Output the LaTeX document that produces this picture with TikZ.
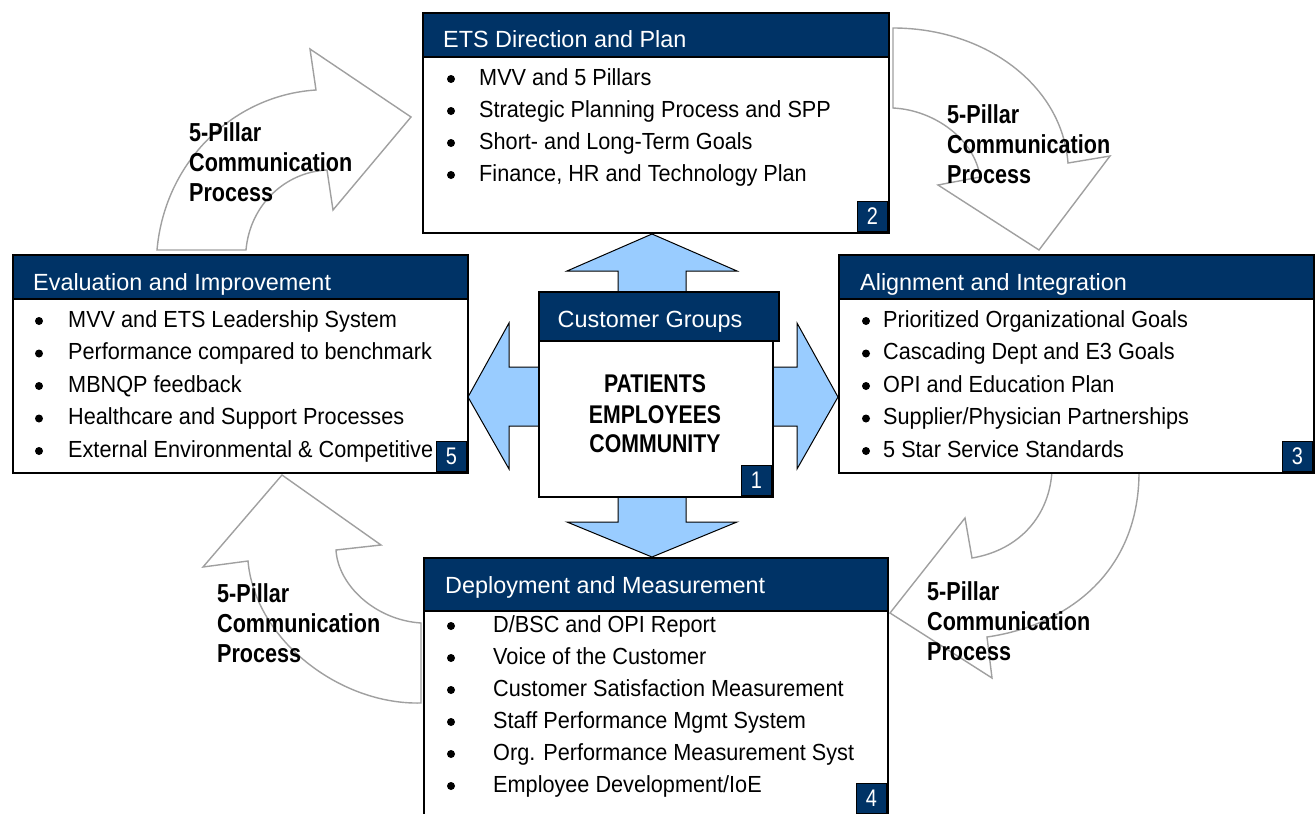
\documentclass[tikz,border=0pt]{standalone}
\usepackage{fontspec}
\setmainfont{Liberation Sans}
\newfontfamily\hdfont{Liberation Sans}
\newfontfamily\bodyfont{Liberation Sans}[FakeStretch=0.93]
\newfontfamily\narrowfont{Liberation Sans}[FakeStretch=0.83]
\definecolor{navy}{HTML}{003366}
\definecolor{lblue}{HTML}{99CCFF}
\definecolor{agray}{HTML}{A0A0A0}
\begin{document}
\begin{tikzpicture}[x=1pt,y=-1pt,
  bodybox/.style={draw=black, line width=1.6pt, fill=white, anchor=north west, inner sep=0pt},
  headbox/.style={fill=navy, draw=black, line width=1.6pt, anchor=north west, inner sep=0pt},
  htext/.style={anchor=base west, text=white, font=\hdfont\fontsize{23.4}{28}\selectfont, inner sep=0pt},
  item/.style={anchor=base west, font=\bodyfont\fontsize{23.3}{28}\selectfont, inner sep=0pt},
  bul/.style={circle, fill=black, inner sep=0pt, minimum size=8pt},
  badge/.style={fill=navy, draw=black, line width=1.2pt, minimum width=30pt, minimum height=30pt, anchor=south east, text=white, font=\narrowfont\fontsize{24}{28}\selectfont, inner sep=0pt},
  curv/.style={draw=agray, line width=1.4pt, fill=white, line join=miter},
  barrow/.style={draw=black, line width=1pt, fill=lblue, line join=miter},
  lbl/.style={anchor=base west, font=\narrowfont\bfseries\fontsize{26}{30}\selectfont, inner sep=0pt, align=left},
  ctext/.style={anchor=base, font=\narrowfont\bfseries\fontsize{25.6}{30}\selectfont, inner sep=0pt},
]
\useasboundingbox (0,0) rectangle (1315,814);

% curved communication arrows
\draw[curv] (157,250) .. controls (165,160) and (235,95) .. (316,90) -- (310,49) -- (411,117) -- (333,210) -- (327,170) .. controls (285,172) and (250,205) .. (246,250) -- cycle;
\draw[curv] (893,28) .. controls (985,28) and (1062,85) .. (1068,163) -- (1110,156) -- (1039,250) -- (938,185) -- (980,177) .. controls (975,140) and (935,110) .. (893,108) -- cycle;
\draw[curv] (421,703) .. controls (340,705) and (255,640) .. (248,561) -- (203,567) -- (282,475) -- (381,545) -- (336,550) .. controls (338,585) and (375,620) .. (421,623) -- cycle;
\draw[curv] (1052,470) .. controls (1050,515) and (1020,550) .. (972,558) -- (965,518) -- (890,613) -- (992,678) -- (987,637) .. controls (1070,625) and (1140,570) .. (1139,470) -- cycle;

% labels (anchor = baseline of the last line)
\node[lbl] (l1) at (189,201) {5-Pillar\\Communication\\Process};
\node[lbl] (l2) at (947,183) {5-Pillar\\Communication\\Process};
\node[lbl] (l3) at (927,660) {5-Pillar\\Communication\\Process};
\node[lbl] (l4) at (217,662) {5-Pillar\\Communication\\Process};

% light blue arrows
\draw[barrow] (618,292) -- (618,271) -- (567,271) -- (652,234) -- (737,271) -- (686,271) -- (686,292);
\draw[barrow] (618,495) -- (618,522) -- (567,522) -- (652,557) -- (737,522) -- (686,522) -- (686,495);
\draw[barrow] (771,367) -- (797,367) -- (797,323) -- (838,397) -- (797,469) -- (797,426) -- (771,426);
\draw[barrow] (539,367) -- (509,367) -- (509,323) -- (468,397) -- (509,469) -- (509,426) -- (539,426);

% Box 2
\node[bodybox, minimum width=466pt, minimum height=220pt] (b2) at (422,12) {};
\node[headbox, minimum width=466pt, minimum height=44pt] (h2) at (422,12) {};
\node[htext] (ht2) at (443,47) {ETS Direction and Plan};
\foreach \t [count=\i] in {MVV and 5 Pillars, Strategic Planning Process and SPP, Short- and Long-Term Goals, {Finance, HR and Technology Plan}} {
  \node[bul] (d2\i) at (451,{79+32*(\i-1)}) {};
  \node[item] (i2\i) at (479,{85+32*(\i-1)}) {\t};
}
\node[badge] (n2) at (888,232) {2};

% Box 5
\node[bodybox, minimum width=455pt, minimum height=218pt] (b5) at (12,254) {};
\node[headbox, minimum width=455pt, minimum height=44pt] (h5) at (12,254) {};
\node[htext] (ht5) at (33,290) {Evaluation and Improvement};
\foreach \t [count=\i] in {MVV and ETS Leadership System, Performance compared to benchmark, MBNQP feedback, Healthcare and Support Processes, External Environmental \& Competitive} {
  \node[bul] (d5\i) at (39,{321+32.5*(\i-1)}) {};
  \node[item] (i5\i) at (68,{327+32.5*(\i-1)}) {\t};
}
\node[badge] (n5) at (467,472) {5};

% Box 3
\node[bodybox, minimum width=475pt, minimum height=218pt] (b3) at (838,254) {};
\node[headbox, minimum width=475pt, minimum height=44pt] (h3) at (838,254) {};
\node[htext] (ht3) at (860,290) {Alignment and Integration};
\foreach \t [count=\i] in {Prioritized Organizational Goals, Cascading Dept and E3 Goals, OPI and Education Plan, Supplier/Physician Partnerships, 5 Star Service Standards} {
  \node[bul] (d3\i) at (866,{321+32.5*(\i-1)}) {};
  \node[item] (i3\i) at (883,{327+32.5*(\i-1)}) {\t};
}
\node[badge] (n3) at (1313,472) {3};

% Box 4
\node[bodybox, minimum width=464pt, minimum height=260pt] (b4) at (423,557) {};
\node[headbox, minimum width=464pt, minimum height=53pt] (h4) at (423,557) {};
\node[htext] (ht4) at (445,593) {Deployment and Measurement};
\foreach \t [count=\i] in {D/BSC and OPI Report, Voice of the Customer, Customer Satisfaction Measurement, Staff Performance Mgmt System, Org. Performance Measurement Syst, Employee Development/IoE} {
  \node[bul] (d4\i) at (451,{626+32*(\i-1)}) {};
  \node[item] (i4\i) at (493,{632+32*(\i-1)}) {\t};
}
\node[badge] (n4) at (887,814) {4};

% Box 1
\node[bodybox, minimum width=234pt, minimum height=156pt] (b1) at (538,340) {};
\node[headbox, minimum width=240pt, minimum height=49pt] (h1) at (538,291) {};
\node[htext, anchor=base] (ht1) at (650,327) {Customer Groups};
\node[ctext] (c1) at (655,392) {PATIENTS};
\node[ctext] (c2) at (655,423) {EMPLOYEES};
\node[ctext] (c3) at (655,452) {COMMUNITY};
\node[badge] (n1) at (772,496) {1};
\end{tikzpicture}
\end{document}
